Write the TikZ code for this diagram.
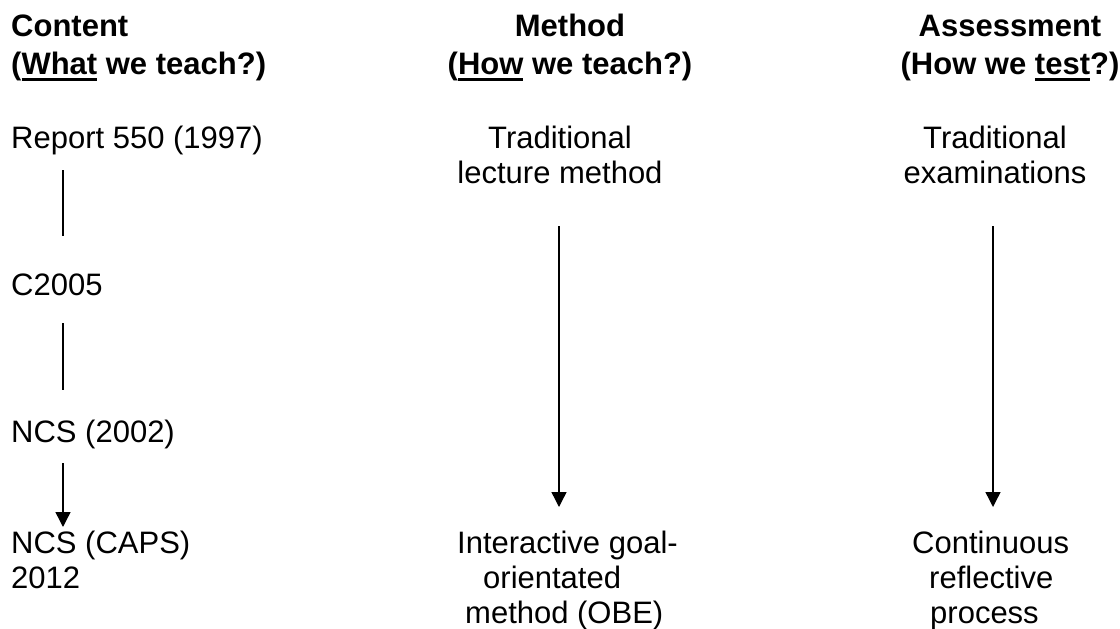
\documentclass[tikz,border=0pt]{standalone}
\usepackage{fontspec}
\setmainfont{Liberation Sans}
\usetikzlibrary{arrows.meta}
\newcommand{\myul}[1]{\setbox0\hbox{#1}\rlap{\rule[-7pt]{\wd0}{3pt}}\box0\relax}
\tikzset{
  txt/.style={inner sep=0pt, font=\fontsize{31pt}{35pt}\selectfont},
  head/.style={inner sep=0pt, font=\fontsize{31pt}{38pt}\selectfont\bfseries},
  link/.style={line width=1.4pt},
  arr/.style={line width=1.4pt, -{Triangle[width=15pt,length=15pt]}}
}
\begin{document}
\begin{tikzpicture}[x=1pt,y=-1pt]
\useasboundingbox (0,0) rectangle (1120,629);
% headers (base anchor = baseline of the last line)
\node[head, anchor=base west, align=left] (hc) at (11,74) {Content\\(\myul{What} we teach?)};
\node[head, anchor=base, align=center] (hm) at (570,74) {Method\\(\myul{How} we teach?)};
\node[head, anchor=base, align=center] (ha) at (1010,74) {Assessment\\(How we \myul{test}?)};
% content column
\node[txt, anchor=base west] (r550) at (11,148) {Report 550 (1997)};
\node[txt, anchor=base west] (c2005) at (11,295) {C2005};
\node[txt, anchor=base west] (ncs02) at (11,442) {NCS (2002)};
\node[txt, anchor=base west, align=left] (caps) at (11,588) {NCS (CAPS)\\2012};
% method column
\node[txt, anchor=base, align=center] (trad) at (560,183) {Traditional\\lecture method};
\node[txt, anchor=base west, align=left] (inter) at (457,623) {Interactive goal-\\\hspace*{26pt}orientated\\\hspace*{8pt}method (OBE)};
% assessment column
\node[txt, anchor=base, align=center] (exam) at (995,183) {Traditional\\examinations};
\node[txt, anchor=base west, align=left] (cont) at (912,623) {Continuous\\\hspace*{17pt}reflective\\\hspace*{18pt}process};
% connector end points
\coordinate (l1a) at (63,170);
\coordinate (l1b) at (63,236);
\coordinate (l2a) at (63,323);
\coordinate (l2b) at (63,390);
\coordinate (l3a) at (63,463);
\coordinate (l3b) at (63,527);
\coordinate (ma) at (559,226);
\coordinate (mb) at (559,507);
\coordinate (aa) at (993,226);
\coordinate (ab) at (993,507);
% connectors
\draw[link] (l1a) -- (l1b);
\draw[link] (l2a) -- (l2b);
\draw[arr] (l3a) -- (l3b);
\draw[arr] (ma) -- (mb);
\draw[arr] (aa) -- (ab);
\end{tikzpicture}
\end{document}
